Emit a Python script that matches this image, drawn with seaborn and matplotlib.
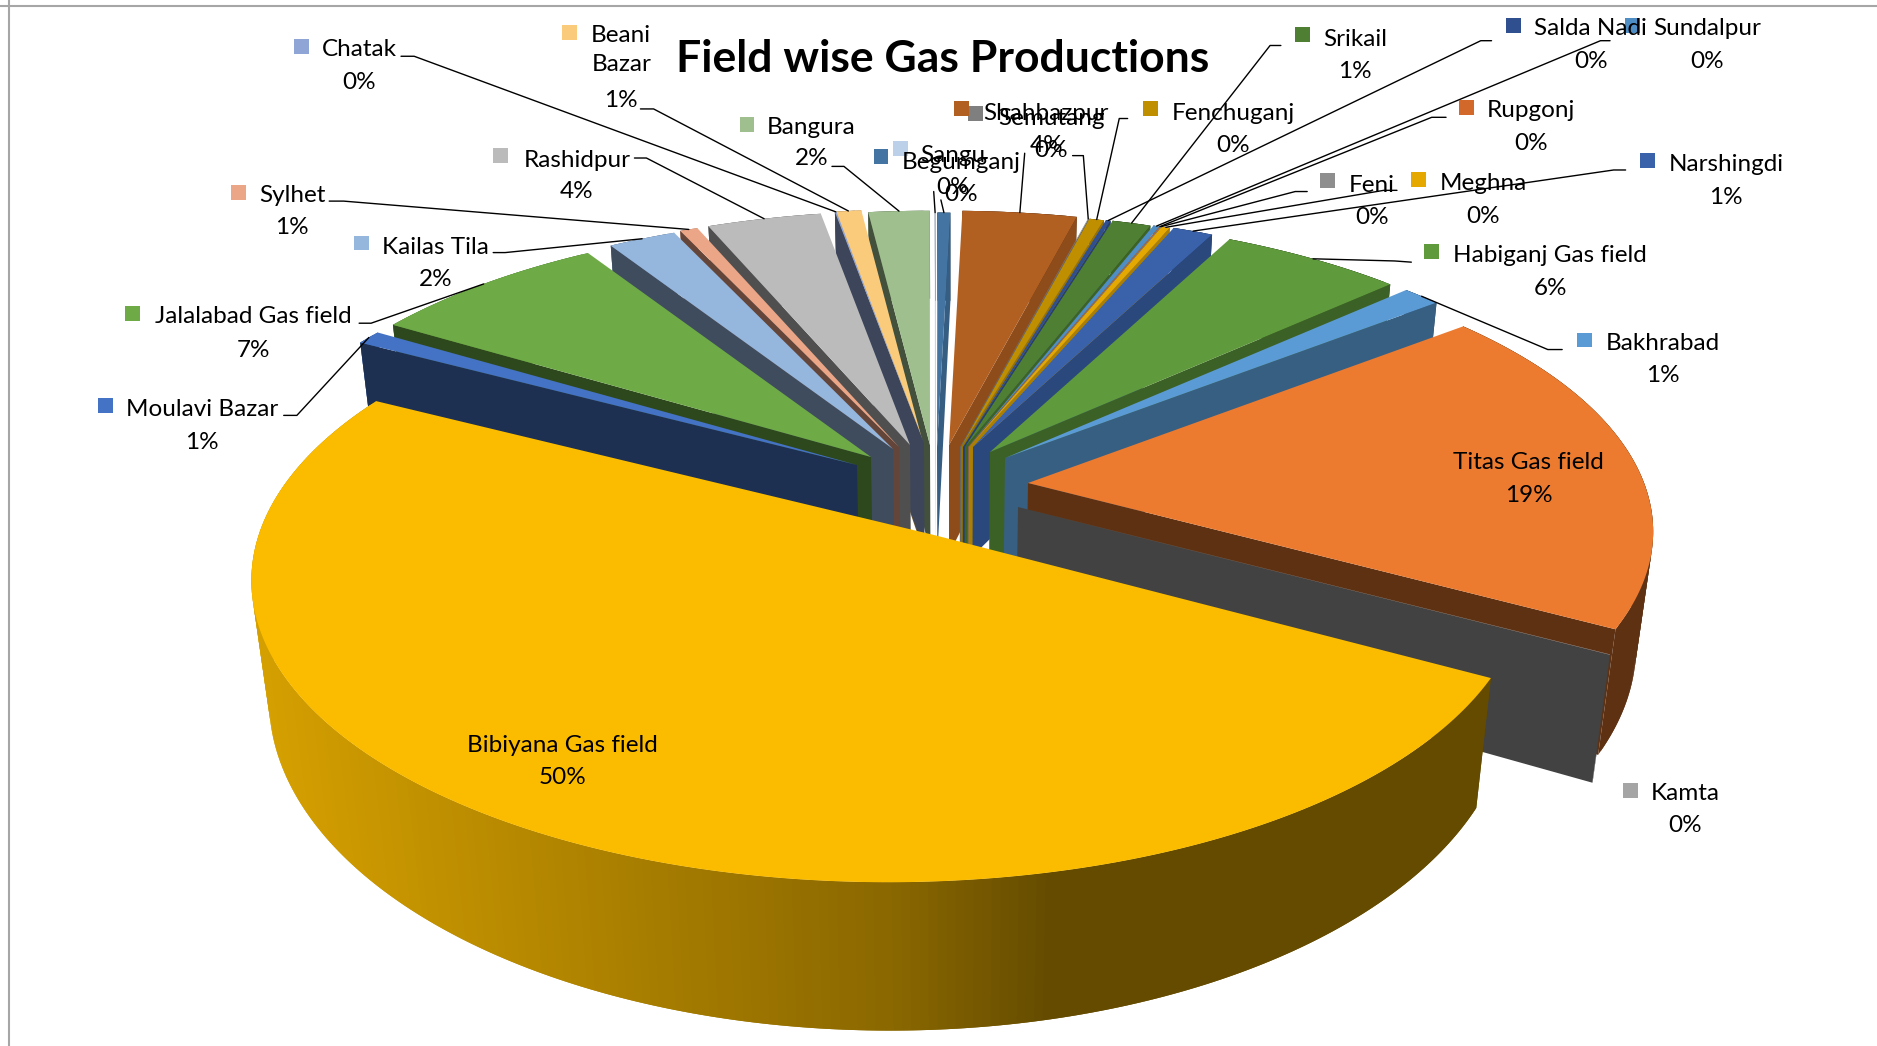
import numpy as np
import pandas as pd
import matplotlib
matplotlib.use('Agg')
import matplotlib.pyplot as plt
from matplotlib.patches import Polygon
import seaborn as sns

sns.set_theme(style='white')
plt.rcParams['font.family'] = ['Lato', 'DejaVu Sans']

# slices, counter-clockwise from the lower edge of Kamta
fields = ['Kamta', 'Titas Gas field', 'Bakhrabad', 'Habiganj Gas field', 'Narshingdi', 'Meghna', 'Feni',
          'Rupgonj', 'Sundalpur', 'Srikail', 'Salda Nadi', 'Fenchuganj', 'Semutang', 'Shahbazpur',
          'Begumganj', 'Sangu', 'Bangura', 'Beani Bazar', 'Chatak', 'Rashidpur', 'Sylhet', 'Kailas Tila',
          'Jalalabad Gas field', 'Moulavi Bazar', 'Bibiyana Gas field']
share = [0.02, 18.9, 1.2, 5.65, 1.25, 0.25, 0.02,
         0.02, 0.2, 1.2, 0.15, 0.45, 0.02, 3.55,
         0.4, 0.02, 1.9, 0.8, 0.05, 3.55, 0.55, 2.1,
         7.4, 0.8, 50.27]
colours = ['#A5A5A5', '#EC7B30', '#5B9BD5', '#5F9A3C', '#3A62AB', '#E4A800', '#8E8E8E',
           '#D2692A', '#4F8DC5', '#4F7F32', '#2F4F8F', '#BF8F00', '#7F7F7F', '#B25F22',
           '#4474A2', '#BDD0E9', '#9FC08E', '#FBCB7C', '#8FA5D6', '#BBBBBB', '#EBA587', '#95B6DD',
           '#6EAB46', '#4472C4', '#FBBC00']

# explode of each slice in pixels, away from the chart centre
shift_x = [68, 78, 55, 40, 23, 19, 18.5, 18, 18, 15, 13, 11, 10, -1, -13, -15, -20, -27, -26, -40, -51, -57, -79, -93, -16]
shift_y = [37, 13, -12, -18, -23, -23, -23, -23, -23, -23, -23, -23, -23, -25, -23, -23, -25, -27, -27, -25, -23, -21, -13, -5, 65]

# label layout, measured on the 1568 wide view: key x/y, text x, name y, percent y
layout = {
    'Kamta': (1362, 660, 1408, 661, 688), 'Titas Gas field': (1198, 384, 1277, 385, 412),
    'Bakhrabad': (1324, 284, 1389, 285, 312), 'Habiganj Gas field': (1196, 210, 1295, 212, 239),
    'Narshingdi': (1376, 134, 1442, 136, 163), 'Meghna': (1185, 150, 1239, 152, 179),
    'Feni': (1109, 151, 1146, 153, 180), 'Rupgonj': (1225, 90, 1279, 91, 118),
    'Sundalpur': (1364, 21, 1426, 22, 50), 'Srikail': (1088, 29, 1132, 31, 58),
    'Salda Nadi': (1264, 21, 1329, 22, 50), 'Fenchuganj': (961, 91, 1030, 93, 120),
    'Semutang': (815, 95, 878, 97, 124), 'Shahbazpur': (803, 91, 874, 93, 120),
    'Begumganj': (736, 131, 803, 134, 161), 'Sangu': (752, 124, 796, 128, 155),
    'Bangura': (624, 104, 678, 105, 131), 'Beani Bazar': (476, 27, 519, 40, 82),
    'Chatak': (252, 39, 300, 40, 67), 'Rashidpur': (418, 130, 482, 132, 158),
    'Sylhet': (199, 161, 244, 162, 188), 'Kailas Tila': (302, 203, 364, 205, 232),
    'Jalalabad Gas field': (111, 262, 212, 263, 291), 'Moulavi Bazar': (88, 339, 169, 340, 368),
    'Bibiyana Gas field': (372, 620, 470, 621, 648),
}
# leader line: points next to the label, the last leg runs to the slice edge
leaders = {
    'Bakhrabad': [(1305, 292), (1293, 292)], 'Habiganj Gas field': [(1179, 219), (1165, 218)],
    'Narshingdi': [(1358, 142), (1348, 142)], 'Meghna': [(1167, 159), (1156, 159)],
    'Feni': [(1092, 160), (1082, 160)], 'Rupgonj': [(1208, 98), (1196, 98)],
    'Sundalpur': [(1345, 34), (1337, 34)], 'Srikail': [(1070, 38), (1061, 38)],
    'Salda Nadi': [(1246, 34), (1237, 34)], 'Fenchuganj': [(942, 99), (935, 99)],
    'Semutang': [(896, 130), (905, 130)], 'Shahbazpur': [(856, 128)],
    'Begumganj': [(786, 167)], 'Sangu': [(780, 160)],
    'Bangura': [(695, 139), (705, 139)], 'Beani Bazar': [(535, 91), (546, 91)],
    'Chatak': [(335, 47), (346, 47)], 'Rashidpur': [(530, 132), (540, 132)],
    'Sylhet': [(275, 168), (287, 168)], 'Kailas Tila': [(412, 211), (422, 211)],
    'Jalalabad Gas field': [(300, 270), (310, 270)], 'Moulavi Bazar': [(237, 347), (248, 347)],
}

SCALE = 1877 / 1568
CX, CY = 950, 470
A, B, K = 677, 305, 0.17
START = -29.0
RIM_PTS = 240
# the big front slice sits on its own ellipse, its tip is off centre
FRONT = 'Bibiyana Gas field'
FRONT_X, FRONT_Y, FRONT_A, FRONT_B = 742 * SCALE, 485 * SCALE, 532 * SCALE, 252 * SCALE
FRONT_START, FRONT_STRETCH = np.radians(143.5), 198 / 180


def rim(ax0, ay0, t):
    # top rim of a slice with its tip at ax0, ay0, with the perspective of the 3D pie
    s = 0.91 + (ay0 - 483) * 0.0003
    w = 1 + K * np.sin(t)
    return ax0 + A * s * np.cos(t) / w, ay0 - B * s * np.sin(t) / w


def front_angle(t, t0):
    return FRONT_START + (t - t0) * FRONT_STRETCH


def drop(x, y):
    # the same point on the underside of the pie
    d = 100 + (y - 345) * 0.09
    return CX + (x - CX) * (1 - 0.025 * d / 120), y + d


def shade(colour, f):
    return tuple(np.array(matplotlib.colors.to_rgb(colour)) * f)


def face(ax, pts, colour, z):
    ax.add_patch(Polygon(pts, closed=True, facecolor=colour, edgecolor='none', linewidth=0, zorder=z))


df = pd.DataFrame({'field': fields, 'share': share, 'colour': colours, 'sx': shift_x, 'sy': shift_y})
df['pct'] = df['share'] / df['share'].sum() * 100
df['t0'] = np.radians(START + np.concatenate([[0], np.cumsum(df['pct'].values[:-1])]) * 3.6)
df['t1'] = df['t0'] + np.radians(df['pct'] * 3.6)
df['mid'] = (df['t0'] + df['t1']) / 2

fig, ax = plt.subplots(figsize=(18.77, 10.46), dpi=100)
fig.subplots_adjust(0, 0, 1, 1)
fig.patch.set_facecolor('white')

# back slices first, Bibiyana last
z = 1.0
for _, row in df.sort_values('mid', key=lambda m: -np.sin(m)).iterrows():
    ax0, ay0 = CX + row['sx'], CY + row['sy']
    ts = np.linspace(row['t0'], row['t1'], max(3, int(RIM_PTS * (row['t1'] - row['t0']) / np.pi) + 2))
    if row['field'] == FRONT:
        ang = front_angle(ts, row['t0'])
        rx, ry = FRONT_X + FRONT_A * np.cos(ang), FRONT_Y - FRONT_B * np.sin(ang)
    else:
        ang = ts
        rx, ry = rim(ax0, ay0, ts)
    bx, by = drop(rx, ry)
    # outer wall, in overlapping strips so the shading can run round the rim without seams
    for i in range(len(ts) - 1):
        c = np.cos(ang[i])
        f = np.clip(0.55 - (0.3 if c < 0 else 0.6) * c, 0.4, 0.85)
        j = min(i + 2, len(ts) - 1)
        face(ax, list(zip(rx[i:j + 1], ry[i:j + 1])) + list(zip(bx[i:j + 1], by[i:j + 1]))[::-1],
             shade(row['colour'], f), z)
    # radial wall facing the viewer
    if row['field'] != FRONT:
        if np.cos(row['mid']) >= 0:
            k = 0
            f = 0.4 + 0.4 * np.clip((np.degrees(ts[0]) + 29) / 104, 0, 1) ** 1.5
        else:
            k = -1
            f = 0.42
        ax_b, ay_b = drop(ax0, ay0)
        face(ax, [(ax0, ay0), (rx[k], ry[k]), (bx[k], by[k]), (ax_b, ay_b)], shade(row['colour'], f), z + 0.1)
    face(ax, [(ax0, ay0)] + list(zip(rx, ry)), row['colour'], z + 0.2)
    z += 0.3

# leader lines end on the middle of the slice rim
for name, pts in leaders.items():
    row = df[df['field'] == name].iloc[0]
    ex, ey = rim(CX + row['sx'], CY + row['sy'], row['mid'])
    xs = [p[0] * SCALE for p in pts] + [ex]
    ys = [p[1] * SCALE for p in pts] + [ey]
    ax.plot(xs, ys, color='black', linewidth=1.0, zorder=300)

keys = pd.DataFrame({'field': fields,
                     'x': [layout[n][0] * SCALE for n in fields],
                     'y': [layout[n][1] * SCALE for n in fields]})
sns.scatterplot(data=keys, x='x', y='y', hue='field', palette=dict(zip(fields, colours)), marker='s', s=115,
                linewidth=0, legend=False, ax=ax, zorder=310)

for _, row in df.iterrows():
    key_x, key_y, tx, ny, py = layout[row['field']]
    label = row['field'].replace('Beani ', 'Beani\n')
    ax.text(tx * SCALE, ny * SCALE + 2, label, ha='center', va='center', fontsize=17.5, color='black',
            linespacing=1.5, zorder=320)
    ax.text(tx * SCALE, py * SCALE + 2, f"{row['pct']:.0f}%", ha='center', va='center', fontsize=17.5,
            color='black', zorder=320)

ax.text(943, 59, 'Field wise Gas Productions', ha='center', va='center', fontsize=32, fontweight='bold',
        color='black', zorder=320)

# chart area border, only the top and left show in the crop
ax.axvline(9, color='#A6A6A6', linewidth=1.5, zorder=0)
ax.axhline(5.5, color='#A6A6A6', linewidth=1.5, zorder=0)

ax.set_xlim(0, 1877)
ax.set_ylim(1046, 0)
ax.set_xlabel('')
ax.set_ylabel('')
ax.set_xticks([])
ax.set_yticks([])
sns.despine(ax=ax, left=True, bottom=True)

plt.savefig('out.png', dpi=100)
